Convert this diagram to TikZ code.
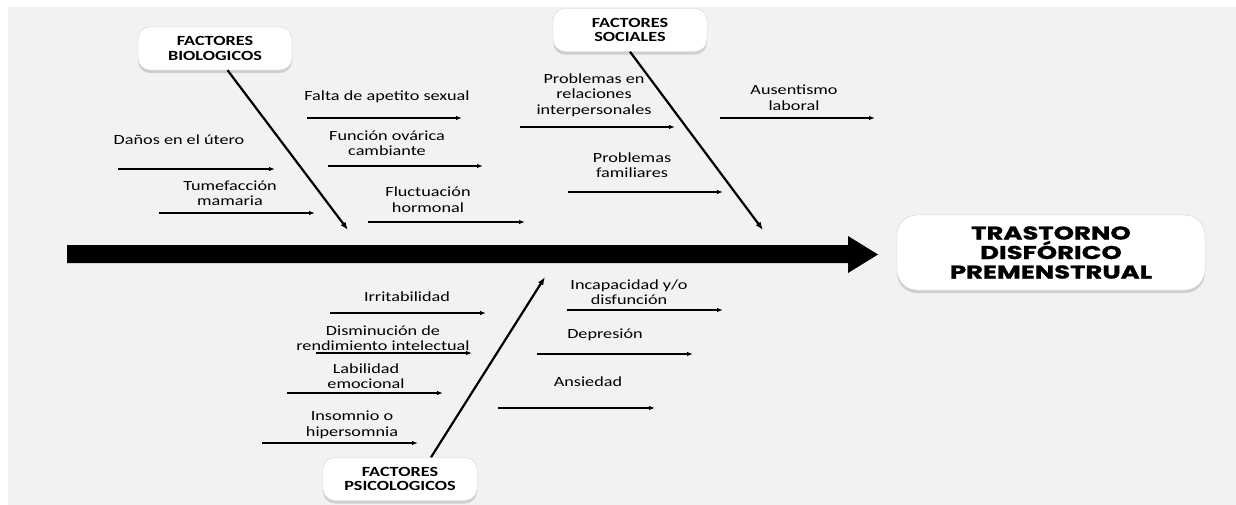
\documentclass[tikz,border=0pt]{standalone}
\usepackage{fontspec}
\setmainfont{Carlito}[FakeStretch=1.3]
\newfontfamily\titulofont{Poppins}[FakeStretch=1.4, BoldFeatures={FakeBold=1.2}]
\usepackage{tikz}
\usetikzlibrary{arrows.meta, shadows, positioning}
\definecolor{fondo}{HTML}{F2F2F2}

\tikzset{
	causa/.style={font=\fontsize{14}{15.5}\selectfont, align=center, inner sep=0pt, text=black},
	rama/.style={line width=1.5pt, -{Latex[length=6pt,width=4.5pt]}},
	diag/.style={line width=2.2pt, -{Latex[length=8pt,width=6pt]}},
	factor/.style={draw=gray!35, fill=white, rounded corners=12pt, align=center,
		font=\bfseries\fontsize{14}{14.5}\selectfont, inner sep=0pt,
		minimum width=154pt, minimum height=43pt,
		drop shadow={shadow xshift=0pt, shadow yshift=-3pt, opacity=0.3}},
	efecto/.style={draw=gray!35, fill=white, rounded corners=20pt, align=center,
		font=\titulofont\bfseries\fontsize{18.5}{19.5}\selectfont, inner sep=0pt,
		minimum width=308pt, minimum height=75pt,
		drop shadow={shadow xshift=0pt, shadow yshift=-3pt, opacity=0.3}}
}

\begin{document}
\begin{tikzpicture}[x=1pt, y=-1pt]
	\useasboundingbox (0,0) rectangle (1236,504);
	\fill[white] (0,0) rectangle (1236,504);
	\fill[fondo] (8,7) rectangle (1237,505);

	% espina central
	\fill[black] (67,245) -- (848,245) -- (848,236) -- (878,254.5) -- (848,273) -- (848,263) -- (67,263) -- cycle;
	\node[efecto] (tdp) at (1051,252.5) {TRASTORNO\\DISFÓRICO\\PREMENSTRUAL};

	% factores
	\node[factor] (bio) at (215,48.5) {FACTORES\\BIOLOGICOS};
	\node[factor] (soc) at (630,30) {FACTORES\\SOCIALES};
	\node[factor] (psi) at (400,479) {FACTORES\\PSICOLOGICOS};

	\coordinate (bioTip) at (348,230);
	\coordinate (socTip) at (763,230);
	\coordinate (psiTip) at (545,277);
	\draw[diag] (bio.-60) -- (bioTip);
	\draw[diag] (soc.south) -- (socTip);
	\draw[diag] (psi.35) -- (psiTip);

	% ramas
	\foreach \nm/\xa/\xb/\yy in {dan/118/275/169, tum/159/315/213, fal/307/462/118,
		fun/328/483/166, flu/368/525/222, rel/520/675/127, fam/568/723/192,
		aus/720/875/118, irr/330/486/313, dis/316/472/353, lab/287/443/393,
		ins/262/418/443, inc/567/723/310, dep/537/693/354, ans/498/655/408}{
		\coordinate (\nm-a) at (\xa,\yy);
		\coordinate (\nm-b) at (\xb,\yy);
		\draw[rama] (\nm-a) -- (\nm-b);
	}

	% biologicos
	\node[causa] (l-dan) at (179,140) {Daños en el útero};
	\node[causa] (l-tum) at (230,193) {Tumefacción\\mamaria};
	\node[causa] (l-fal) at (387,97) {Falta de apetito sexual};
	\node[causa] (l-fun) at (387,143) {Función ovárica\\cambiante};
	\node[causa] (l-flu) at (428,199.5) {Fluctuación\\hormonal};
	% sociales
	\node[causa] (l-rel) at (594,95) {Problemas en\\relaciones\\interpersonales};
	\node[causa] (l-fam) at (632,165) {Problemas\\familiares};
	\node[causa] (l-aus) at (794,97.5) {Ausentismo\\laboral};
	% psicologicos
	\node[causa] (l-irr) at (407,297) {Irritabilidad};
	\node[causa] (l-dis) at (383,338) {Disminución de\\rendimiento intelectual};
	\node[causa] (l-lab) at (366,376) {Labilidad\\emocional};
	\node[causa] (l-ins) at (352,425) {Insomnio o\\hipersomnia};
	\node[causa] (l-inc) at (629,292) {Incapacidad y/o\\disfunción};
	\node[causa] (l-dep) at (605,335) {Depresión};
	\node[causa] (l-ans) at (588,382) {Ansiedad};
\end{tikzpicture}
\end{document}
